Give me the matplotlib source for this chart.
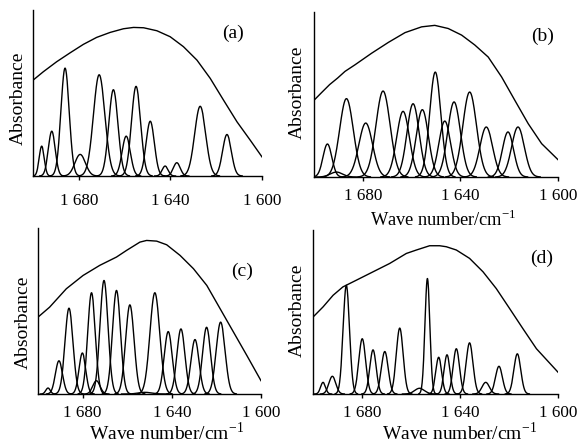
import numpy as np
import matplotlib
matplotlib.use("Agg")
import matplotlib.pyplot as plt

plt.rcParams['font.family'] = ['Liberation Serif', 'DejaVu Serif']
plt.rcParams['mathtext.fontset'] = 'custom'
plt.rcParams['mathtext.rm'] = 'Liberation Serif'

W, H = 585, 444

# ---------------- data (wavenumber, relative absorbance) ----------------
# Panel (a)
env_a_x = [1700, 1695.5, 1689.7, 1683.8, 1678.0, 1672.2, 1666.3, 1660.5, 1656.1, 1651.7,
           1645.9, 1640.1, 1634.3, 1628.4, 1622.6, 1616.8, 1610.9, 1605.1, 1600]
env_a_y = [0.577, 0.628, 0.688, 0.742, 0.793, 0.835, 0.865, 0.887, 0.895, 0.893,
           0.875, 0.839, 0.779, 0.698, 0.588, 0.457, 0.326, 0.215, 0.115]
pk_a_c = [1696.2, 1691.8, 1686.0, 1679.4, 1671.1, 1664.9, 1659.3, 1655.0, 1648.8, 1642.3, 1637.2, 1627.0, 1615.3]
pk_a_h = [0.18, 0.27, 0.65, 0.13, 0.61, 0.52, 0.24, 0.54, 0.33, 0.06, 0.08, 0.42, 0.25]
pk_a_s = [1.1, 1.5, 1.8, 2.3, 2.5, 2.0, 1.8, 2.0, 1.8, 1.3, 1.5, 2.4, 1.9]

# Panel (b)
env_b_x = [1700, 1697.0, 1693.6, 1690.3, 1687.3, 1683.2, 1676.4, 1669.5, 1662.7, 1655.9,
           1650.5, 1645.0, 1639.5, 1634.1, 1628.6, 1623.1, 1617.7, 1612.2, 1606.7, 1600]
env_b_y = [0.465, 0.51, 0.56, 0.60, 0.64, 0.68, 0.75, 0.816, 0.875, 0.91,
           0.919, 0.90, 0.86, 0.80, 0.727, 0.606, 0.465, 0.323, 0.202, 0.105]
pk_b_c = [1694.5, 1690.8, 1686.7, 1678.8, 1671.7, 1663.5, 1659.4, 1655.6, 1650.3, 1646.4, 1642.6, 1636.2, 1629.4, 1620.5, 1616.4]
pk_b_h = [0.20, 0.03, 0.475, 0.327, 0.521, 0.398, 0.444, 0.408, 0.636, 0.339, 0.455, 0.515, 0.303, 0.273, 0.303]
pk_b_s = [1.8, 2.5, 2.8, 2.8, 2.9, 2.6, 2.5, 2.5, 2.3, 2.4, 2.6, 2.8, 2.6, 2.3, 2.6]

# Panel (c)
env_c_x = [1700, 1694.8, 1687.3, 1679.8, 1672.3, 1664.8, 1660.3, 1654.3, 1651.3, 1646.8,
           1642.3, 1636.3, 1630.3, 1624.3, 1618.3, 1612.3, 1606.3, 1600]
env_c_y = [0.463, 0.523, 0.634, 0.714, 0.775, 0.825, 0.865, 0.915, 0.925, 0.921,
           0.899, 0.835, 0.755, 0.654, 0.513, 0.372, 0.231, 0.08]
pk_c_c = [1695.5, 1690.6, 1686.1, 1680.1, 1676.0, 1673.8, 1670.4, 1664.8, 1658.8, 1652.0,
          1647.6, 1641.6, 1635.9, 1629.6, 1624.4, 1618.1]
pk_c_h = [0.036, 0.20, 0.517, 0.247, 0.61, 0.08, 0.684, 0.624, 0.537, 0.01,
          0.61, 0.376, 0.392, 0.328, 0.402, 0.433]
pk_c_s = [1.0, 1.6, 1.8, 1.5, 1.7, 1.6, 1.8, 1.8, 1.9, 3.0, 2.2, 1.8, 1.8, 1.8, 1.8, 2.0]

# Panel (d)
env_d_x = [1700, 1695.9, 1691.8, 1687.8, 1682.3, 1675.5, 1668.7, 1661.9, 1657.8, 1652.4,
           1648.3, 1645.6, 1641.5, 1636.1, 1630.6, 1625.2, 1619.7, 1614.3, 1608.8, 1600]
env_d_y = [0.469, 0.531, 0.602, 0.653, 0.694, 0.745, 0.796, 0.857, 0.878, 0.904,
           0.904, 0.898, 0.878, 0.827, 0.745, 0.643, 0.520, 0.398, 0.276, 0.133]
pk_d_c = [1695.9, 1692.1, 1686.4, 1679.9, 1675.5, 1670.7, 1664.6, 1656.5, 1653.3, 1648.7,
          1645.3, 1641.5, 1636.1, 1629.5, 1624.1, 1616.6]
pk_d_h = [0.071, 0.108, 0.663, 0.337, 0.269, 0.259, 0.402, 0.035, 0.704, 0.224,
          0.239, 0.276, 0.312, 0.071, 0.169, 0.245]
pk_d_s = [1.0, 1.4, 1.3, 1.4, 1.3, 1.4, 1.4, 2.0, 1.0, 1.2, 1.2, 1.3, 1.4, 1.5, 1.4, 1.4]

xticks = [1680, 1640, 1600]
xticklabels = ['1 680', '1 640', '1 600']

panels = [
    dict(env_x=env_a_x, env_y=env_a_y, c=pk_a_c, h=pk_a_h, s=pk_a_s, letter='(a)',
         box=(33, 262, 10, 176), letter_xy=(233, 33), ylab_xy=(18, 98), xlab=None, pad=9),
    dict(env_x=env_b_x, env_y=env_b_y, c=pk_b_c, h=pk_b_h, s=pk_b_s, letter='(b)',
         box=(314, 558, 12, 177), letter_xy=(543, 36), ylab_xy=(297, 92),
         xlab=((443, 220), 13.2), pad=5),
    dict(env_x=env_c_x, env_y=env_c_y, c=pk_c_c, h=pk_c_h, s=pk_c_s, letter='(c)',
         box=(38, 261, 228, 394), letter_xy=(242, 271), ylab_xy=(23, 322),
         xlab=((167, 433), 14.0), pad=5),
    dict(env_x=env_d_x, env_y=env_d_y, c=pk_d_c, h=pk_d_h, s=pk_d_s, letter='(d)',
         box=(313, 558, 230, 394), letter_xy=(542, 258), ylab_xy=(297, 310),
         xlab=((460, 433), 14.0), pad=5),
]

fig = plt.figure(figsize=(W / 100, H / 100), dpi=100)

def fx(px):
    return px / W

def fy(py):
    return 1 - py / H

for p in panels:
    l, r, t, b = p['box']
    ax = fig.add_axes([fx(l), fy(b), (r - l) / W, (b - t) / H])
    ax.plot(p['env_x'], p['env_y'], color='black', lw=1.0)
    for c, h, s in zip(p['c'], p['h'], p['s']):
        xs = np.linspace(c - 3.5 * s, c + 3.5 * s, 200)
        xs = xs[(xs <= 1700) & (xs >= 1600)]
        ax.plot(xs, h * np.exp(-0.5 * ((xs - c) / s) ** 2), color='black', lw=1.0)
    ax.set_xlim(1700, 1600)
    ax.set_ylim(0, 1)
    for side in ['top', 'right']:
        ax.spines[side].set_visible(False)
    for side in ['left', 'bottom']:
        ax.spines[side].set_linewidth(1.0)
    ax.set_yticks([])
    ax.set_xticks(xticks)
    ax.set_xticklabels(xticklabels)
    ax.tick_params(axis='x', direction='out', length=3, width=1.0, labelsize=12.3, pad=p['pad'])
    ax.patch.set_alpha(0)
    fig.text(fx(p['letter_xy'][0]), fy(p['letter_xy'][1]), p['letter'], fontsize=14,
             ha='center', va='center')
    fig.text(fx(p['ylab_xy'][0]), fy(p['ylab_xy'][1]), 'Absorbance', fontsize=14,
             rotation=90, ha='center', va='center')
    if p['xlab'] is not None:
        (xx, yy), fs = p['xlab']
        fig.text(fx(xx), fy(yy), 'Wave number/cm$^{-1}$', fontsize=fs, ha='center', va='center')

fig.savefig('out.png', dpi=100)
